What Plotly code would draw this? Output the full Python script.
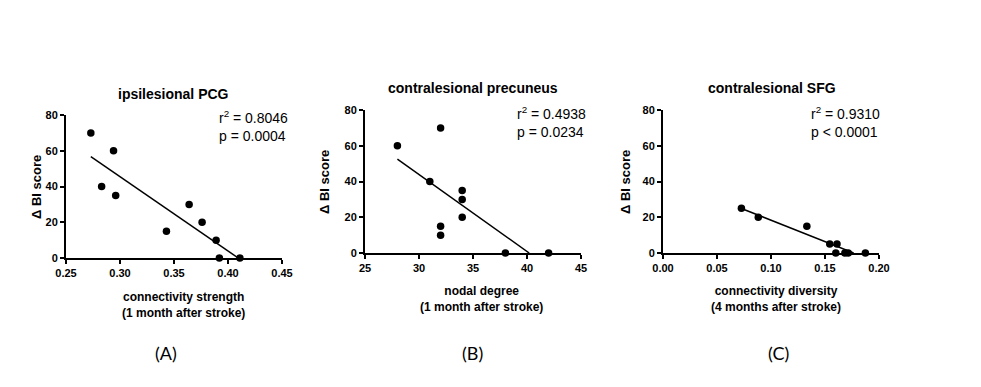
import numpy as np
import plotly.graph_objects as go

# ---------------- data ----------------
a_x = [0.273, 0.283, 0.294, 0.296, 0.343, 0.364, 0.376, 0.389, 0.392, 0.411]
a_y = [70, 40, 60, 35, 15, 30, 20, 10, 0, 0]

b_x = [28, 31, 32, 32, 32, 34, 34, 34, 38, 42]
b_y = [60, 40, 70, 15, 10, 35, 30, 20, 0, 0]

c_x = [0.0726, 0.0882, 0.1332, 0.1544, 0.1611, 0.160, 0.1684, 0.1715, 0.1874]
c_y = [25, 20, 15, 5, 5, 0, 0, 0, 0]

titles = ["ipsilesional PCG", "contralesional precuneus", "contralesional SFG"]
xlabels = ["connectivity strength<br>(1 month after stroke)",
           "nodal degree<br>(1 month after stroke)",
           "connectivity diversity<br>(4 months after stroke)"]
stats = ["r<sup>2</sup> = 0.8046<br>p = 0.0004",
         "r<sup>2</sup> = 0.4938<br>p = 0.0234",
         "r<sup>2</sup> = 0.9310<br>p &lt; 0.0001"]
panel_tags = ["(A)", "(B)", "(C)"]

a_xticks = [0.25, 0.30, 0.35, 0.40, 0.45]
a_xticktext = ["0.25", "0.30", "0.35", "0.40", "0.45"]
b_xticks = [25, 30, 35, 40, 45]
c_xticks = [0.00, 0.05, 0.10, 0.15, 0.20]
c_xticktext = ["0.00", "0.05", "0.10", "0.15", "0.20"]
y_ticks = [0, 20, 40, 60, 80]

# ---------------- layout geometry ----------------
W, H = 981, 387
def px(x):
    return x / W
def py(y):
    return 1 - y / H

panels = [
    dict(x=a_x, y=a_y, xr=[0.25, 0.45], xt=a_xticks, xtt=a_xticktext,
         dom_x=[px(66), px(282)], dom_y=[py(258), py(115)]),
    dict(x=b_x, y=b_y, xr=[25, 45], xt=b_xticks, xtt=[str(v) for v in b_xticks],
         dom_x=[px(365), px(581)], dom_y=[py(253), py(110)]),
    dict(x=c_x, y=c_y, xr=[0.0, 0.20], xt=c_xticks, xtt=c_xticktext,
         dom_x=[px(663), px(879)], dom_y=[py(253), py(110)]),
]

fig = go.Figure()
FONT = "Liberation Sans, Arial, sans-serif"

annotations = []
for i, p in enumerate(panels):
    n = "" if i == 0 else str(i + 1)
    xa, ya = "x" + n, "y" + n
    # regression line (least squares), drawn from min x to x-intercept
    slope, inter = np.polyfit(p["x"], p["y"], 1)
    x0 = min(p["x"])
    x1 = -inter / slope
    fig.add_trace(go.Scatter(x=[x0, x1], y=[slope * x0 + inter, 0], mode="lines",
                             line=dict(color="black", width=1.5), xaxis=xa, yaxis=ya,
                             showlegend=False, hoverinfo="skip"))
    fig.add_trace(go.Scatter(x=p["x"], y=p["y"], mode="markers",
                             marker=dict(color="black", size=7.5), xaxis=xa, yaxis=ya,
                             cliponaxis=False, showlegend=False))
    axis_common = dict(showline=True, linecolor="black", linewidth=2, ticks="outside",
                       ticklen=4, tickwidth=2, tickcolor="black", showgrid=False,
                       zeroline=False, automargin=False,
                       tickfont=dict(family=FONT, size=11, color="black", weight="bold"))
    fig.update_layout(**{
        ("xaxis" + n): dict(domain=p["dom_x"], range=p["xr"], tickvals=p["xt"],
                            ticktext=p["xtt"], anchor=ya, **axis_common),
        ("yaxis" + n): dict(domain=p["dom_y"], range=[0, 80], tickvals=y_ticks,
                            anchor=xa, **axis_common),
    })

    # title
    ty = 94 if i == 0 else 88
    tx = [173, 473, 772][i]
    annotations.append(dict(text="<b>" + titles[i] + "</b>", x=px(tx), y=py(ty),
                            xref="paper", yref="paper", showarrow=False,
                            xanchor="center", yanchor="middle",
                            font=dict(family=FONT, size=14, color="black")))
    # x label
    lx = [183, 481, 776][i]
    ly = [305, 299, 299][i]
    annotations.append(dict(text="<b>" + xlabels[i] + "</b>", x=px(lx), y=py(ly),
                            xref="paper", yref="paper", showarrow=False,
                            xanchor="center", yanchor="middle", align="center",
                            font=dict(family=FONT, size=12, color="black")))
    # y label
    yx = [36, 324, 625][i]
    yy = [187, 182, 182][i]
    annotations.append(dict(text="<b>\u0394 BI score</b>", x=px(yx), y=py(yy),
                            xref="paper", yref="paper", showarrow=False, textangle=-90,
                            xanchor="center", yanchor="middle",
                            font=dict(family=FONT, size=13, color="black")))
    # stats
    sx = [217, 515, 809][i]
    sy = [126, 122, 122][i]
    annotations.append(dict(text=stats[i], x=px(sx), y=py(sy),
                            xref="paper", yref="paper", showarrow=False,
                            xanchor="left", yanchor="middle", align="left",
                            font=dict(family=FONT, size=14, color="black")))
    # panel tag
    annotations.append(dict(text=panel_tags[i], x=px([166, 472, 778][i]), y=py(353),
                            xref="paper", yref="paper", showarrow=False,
                            xanchor="center", yanchor="middle",
                            font=dict(family="Lato, Open Sans, sans-serif", size=18,
                                      color="black")))

fig.update_layout(width=W, height=H,
                  margin=dict(l=0, r=0, t=0, b=0, pad=0, autoexpand=False),
                  paper_bgcolor="white", plot_bgcolor="white",
                  annotations=annotations, showlegend=False)

fig.write_html("out.html", config={"displayModeBar": False},
               post_script="document.body.style.margin='0';document.body.style.overflow='hidden';")
